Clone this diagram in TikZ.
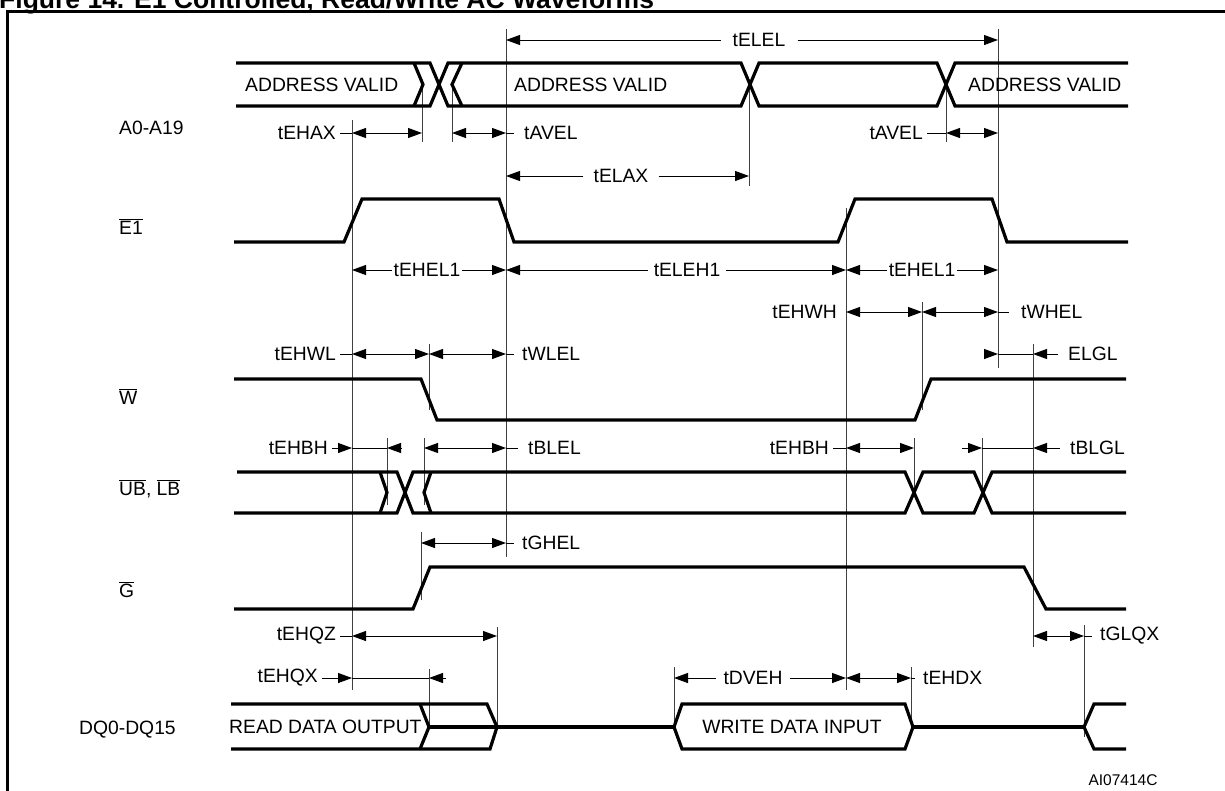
\documentclass[tikz,border=0pt]{standalone}
\usepackage{fontspec}
\setmainfont{Liberation Sans}
\usetikzlibrary{arrows.meta}
\newcommand{\ovl}[1]{$\overline{\mbox{#1}}$}

\begin{document}
\begin{tikzpicture}[x=1pt,y=-1pt,
  font=\fontsize{19.3}{23}\selectfont,
  every node/.style={inner xsep=4pt,inner ysep=2pt},
  sig/.style={line width=3.2pt},
  guide/.style={line width=1pt,black!75},
  fine/.style={line width=1pt},
  twohead/.style={fine,{Triangle[length=14pt,width=10pt]}-{Triangle[length=14pt,width=10pt]}},
  onehead/.style={fine,-{Triangle[length=14pt,width=10pt]}},
  signame/.style={anchor=base west}]
\useasboundingbox (0,0) rectangle (1225,790);
\clip (0,0) rectangle (1225,790);

\node[anchor=base west,inner sep=0pt,font=\bfseries\fontsize{26.5}{30}\selectfont] (title) at (-1,8) {Figure 14. \ovl{E1} Controlled, Read/Write AC Waveforms};
\draw[line width=2.6pt] (7.5,800) -- (7.5,11.5) -- (1235,11.5);

\node[signame] (nA) at (115,134) {A0-A19};
\node[signame] (nE) at (115,234) {\ovl{E1}};
\node[signame] (nW) at (115,404) {\ovl{W}};
\node[signame] (nB) at (115,495) {\ovl{UB}, \ovl{LB}};
\node[signame] (nG) at (115,597) {\ovl{G}};
\node[signame] (nD) at (75,734) {DQ0-DQ15};

% guides
\draw[guide] (352,120) -- (352,690);
\draw[guide] (422,84.5) -- (422,142);
\draw[guide] (452,84.5) -- (452,142);
\draw[guide] (506,29) -- (506,557);
\draw[guide] (749,84.5) -- (749,186);
\draw[guide] (946,84.5) -- (946,142);
\draw[guide] (998,29) -- (998,368);
\draw[guide] (846,208) -- (846,690);
\draw[guide] (922,302) -- (922,410);
\draw[guide] (429,344) -- (429,410);
\draw[guide] (387,438) -- (387,505);
\draw[guide] (424,438) -- (424,505);
\draw[guide] (914,438) -- (914,492);
\draw[guide] (982,438) -- (982,492);
\draw[guide] (1033,344) -- (1033,647);
\draw[guide] (421,532) -- (421,600);
\draw[guide] (497,627) -- (497,727);
\draw[guide] (1084,625) -- (1084,737);
\draw[guide] (429,669) -- (429,727);
\draw[guide] (674,667) -- (674,727);
\draw[guide] (911,667) -- (911,727);

% A0-A19
\draw[sig] (236,63) -- (430,63) -- (448,106) -- (741,106) -- (759,63) -- (937,63) -- (955,106) -- (1128,106);
\draw[sig] (236,106) -- (430,106) -- (448,63) -- (741,63) -- (759,106) -- (937,106) -- (955,63) -- (1128,63);
\draw[sig] (414,63) -- (423,84.5) -- (414,106);
\draw[sig] (462,63) -- (452,84.5) -- (462,106);
\node[anchor=west] (av1) at (241,84.5) {ADDRESS VALID};
\node[anchor=west] (av2) at (510,84.5) {ADDRESS VALID};
\node[anchor=west] (av3) at (964,84.5) {ADDRESS VALID};

% E1, W, UB LB, G
\draw[sig] (234,242) -- (344,242) -- (362,199) -- (499,199) -- (514,242) -- (838,242) -- (855,199) -- (992,199) -- (1007,242) -- (1128,242);
\draw[sig] (234,379) -- (421,379) -- (437,420) -- (915,420) -- (931,379) -- (1126,379);
\draw[sig] (237,472) -- (397,472) -- (413,513) -- (905,513) -- (923,472) -- (974,472) -- (992,513) -- (1126,513);
\draw[sig] (234,513) -- (397,513) -- (413,472) -- (905,472) -- (923,513) -- (974,513) -- (992,472) -- (1126,472);
\draw[sig] (380,472) -- (387,492.5) -- (380,513);
\draw[sig] (431,472) -- (424,492.5) -- (431,513);
\draw[sig] (234,609) -- (413,609) -- (430,567) -- (1024,567) -- (1046,609) -- (1126,609);

% DQ0-DQ15
\draw[sig] (231,704) -- (487,704) -- (497,727) -- (490,749) -- (231,749);
\draw[sig] (420,704) -- (429,727) -- (420,749);
\draw[sig] (429,727) -- (674,727);
\draw[sig] (674,727) -- (682,704) -- (905,704) -- (913,727) -- (905,749) -- (682,749) -- cycle;
\draw[sig] (913,727) -- (1084,727);
\draw[sig] (1126,704) -- (1094,704) -- (1084,727) -- (1094,749) -- (1126,749);
\node[anchor=west] (rdo) at (225,727) {READ DATA OUTPUT};
\node (wdi) at (792,727) {WRITE DATA INPUT};

% timings
\node[inner xsep=12pt] (telel) at (759,40) {tELEL};
\draw[onehead] (telel.west) -- (506,40);
\draw[onehead] (telel.east) -- (998,40);

\node[anchor=east] (tehax) at (340,133) {tEHAX};
\draw[fine] (tehax.east) -- (352,133);
\draw[twohead] (352,133) -- (422,133);
\draw[twohead] (452,133) -- (506,133);
\node[anchor=west] (tavela) at (520,133) {tAVEL};
\draw[fine,shorten >=6pt] (506,133) -- (tavela.west);
\node[anchor=east] (tavelb) at (927,133) {tAVEL};
\draw[fine] (tavelb.east) -- (946,133);
\draw[twohead] (946,133) -- (998,133);

\node[inner xsep=10pt] (telax) at (621,176) {tELAX};
\draw[onehead] (telax.west) -- (506,176);
\draw[onehead] (telax.east) -- (749,176);

\node[inner xsep=2pt] (tehela) at (427,270) {tEHEL1};
\draw[onehead] (tehela.west) -- (352,270);
\draw[onehead] (tehela.east) -- (506,270);
\node[inner xsep=6pt] (teleh) at (687,270) {tELEH1};
\draw[onehead] (teleh.west) -- (506,270);
\draw[onehead] (teleh.east) -- (846,270);
\node[inner xsep=2pt] (tehelb) at (922,270) {tEHEL1};
\draw[onehead] (tehelb.west) -- (846,270);
\draw[onehead] (tehelb.east) -- (998,270);

\node[anchor=east] (tehwh) at (841,312) {tEHWH};
\draw[twohead] (846,312) -- (922,312);
\draw[twohead] (922,312) -- (998,312);
\node[anchor=west] (twhel) at (1017,312) {tWHEL};
\draw[fine,shorten >=8pt] (998,312) -- (twhel.west);

\node[anchor=east] (tehwl) at (340,354) {tEHWL};
\draw[fine] (tehwl.east) -- (352,354);
\draw[twohead] (352,354) -- (429,354);
\draw[twohead] (429,354) -- (506,354);
\node[anchor=west] (twlel) at (518,354) {tWLEL};
\draw[fine,shorten >=4pt] (506,354) -- (twlel.west);
\draw[onehead] (984,354) -- (998,354);
\draw[fine] (998,354) -- (1033,354);
\draw[onehead] (1048,354) -- (1033,354);
\node[anchor=west] (elgl) at (1064,354) {ELGL};
\draw[fine,shorten >=6pt] (1047,354) -- (elgl.west);

\node[anchor=east] (tehbha) at (332,448) {tEHBH};
\draw[onehead] (tehbha.east) -- (352,448);
\draw[fine] (352,448) -- (387,448);
\draw[onehead] (402,448) -- (387,448);
\draw[twohead] (424,448) -- (506,448);
\node[anchor=west] (tblel) at (524,448) {tBLEL};
\draw[fine,shorten >=6pt] (506,448) -- (tblel.west);
\node[anchor=east] (tehbhb) at (833,448) {tEHBH};
\draw[fine] (tehbhb.east) -- (846,448);
\draw[twohead] (846,448) -- (914,448);
\draw[onehead] (962,448) -- (982,448);
\draw[fine] (982,448) -- (1033,448);
\draw[onehead] (1048,448) -- (1033,448);
\node[anchor=west] (tblgl) at (1066,448) {tBLGL};
\draw[fine,shorten >=6pt] (1047,448) -- (tblgl.west);

\draw[twohead] (421,543) -- (506,543);
\node[anchor=west] (tghel) at (518,543) {tGHEL};
\draw[fine,shorten >=4pt] (506,543) -- (tghel.west);

\node[anchor=east] (tehqz) at (340,636) {tEHQZ};
\draw[fine] (tehqz.east) -- (352,636);
\draw[twohead] (352,636) -- (497,636);
\draw[twohead] (1033,636) -- (1084,636);
\node[anchor=west] (tglqx) at (1096,636) {tGLQX};
\draw[fine,shorten >=4pt] (1084,636) -- (tglqx.west);

\node[anchor=east] (tehqx) at (322,678) {tEHQX};
\draw[onehead] (tehqx.east) -- (352,678);
\draw[fine] (352,678) -- (429,678);
\draw[onehead] (446,678) -- (429,678);
\node[inner xsep=7pt] (tdveh) at (753,678) {tDVEH};
\draw[onehead] (tdveh.west) -- (674,678);
\draw[onehead] (tdveh.east) -- (846,678);
\draw[twohead] (846,678) -- (911,678);
\node[anchor=west] (tehdx) at (919,678) {tEHDX};
\draw[fine,shorten >=4pt] (911,678) -- (tehdx.west);

\node[font=\fontsize{15.5}{18}\selectfont] (code) at (1123,780) {AI07414C};
\end{tikzpicture}
\end{document}
